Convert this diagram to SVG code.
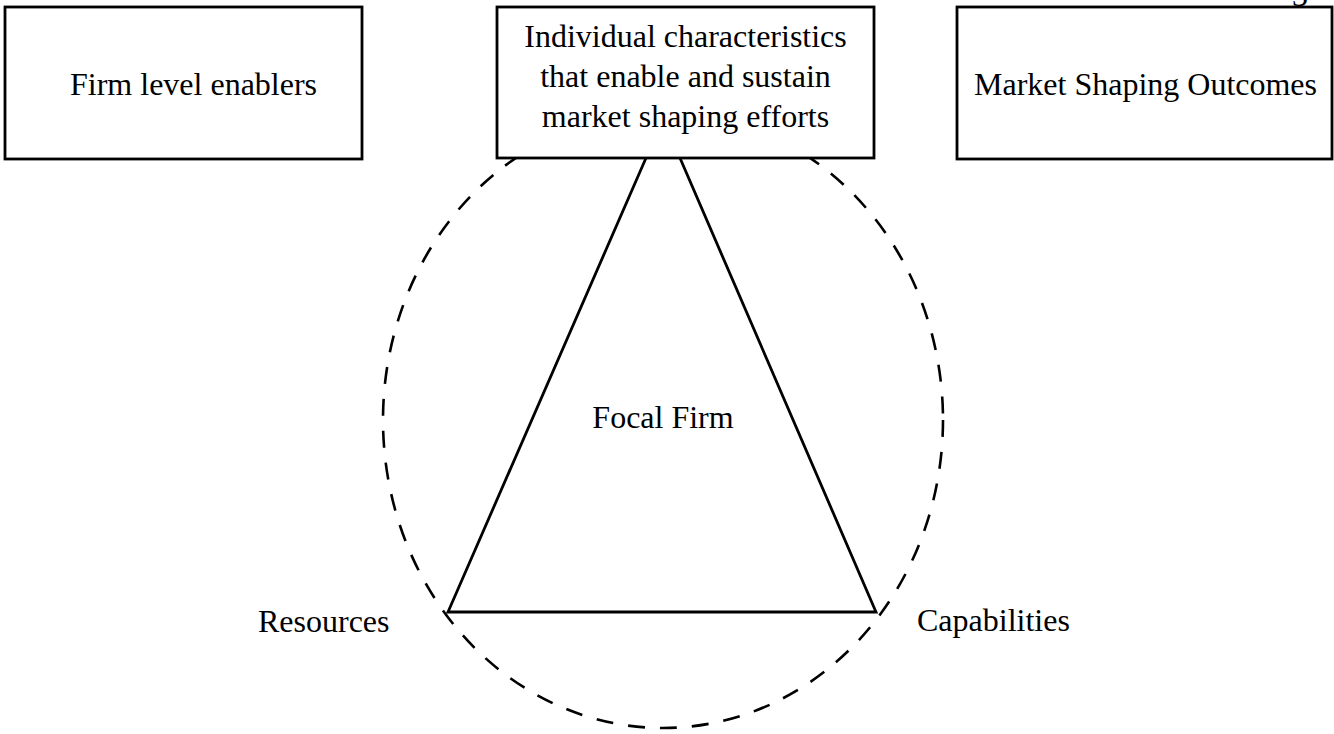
<svg xmlns="http://www.w3.org/2000/svg" width="1334" height="734" viewBox="0 0 1334 734">
<style>
.box{fill:#fff;stroke:#000;stroke-width:2.8}
.t{font-family:"Liberation Serif","Times New Roman",serif;font-size:32px;fill:#000}
.c{text-anchor:middle}
.dash{fill:none;stroke:#000;stroke-width:2.6;stroke-dasharray:17 15}
.edge{fill:none;stroke:#000;stroke-width:2.8}
</style>
<rect width="1334" height="734" fill="#fff"/>
<g id="connectors">
<ellipse class="dash" cx="663" cy="420" rx="280" ry="308"/>
<polyline class="edge" points="646,158 448,612 876,612 680,158"/>
</g>
<g id="node-firm-level">
<rect class="box" x="5" y="7" width="357" height="152"/>
<text class="t" x="70" y="95">Firm level enablers</text>
</g>
<g id="node-individual">
<rect class="box" x="497" y="7" width="377" height="151"/>
<text class="t c" x="685.5" y="47">Individual characteristics</text>
<text class="t c" x="685.5" y="87">that enable and sustain</text>
<text class="t c" x="685.5" y="127">market shaping efforts</text>
</g>
<g id="node-outcomes">
<rect class="box" x="957" y="7" width="375" height="152"/>
<text class="t c" x="1145.5" y="95">Market Shaping Outcomes</text>
</g>
<g id="node-focal">
<text class="t c" x="663" y="428">Focal Firm</text>
</g>
<g id="node-resources">
<text class="t" x="258" y="632">Resources</text>
</g>
<g id="node-capabilities">
<text class="t" x="917" y="631">Capabilities</text>
</g>
<text class="t c" x="1300" y="6">3</text>
</svg>
